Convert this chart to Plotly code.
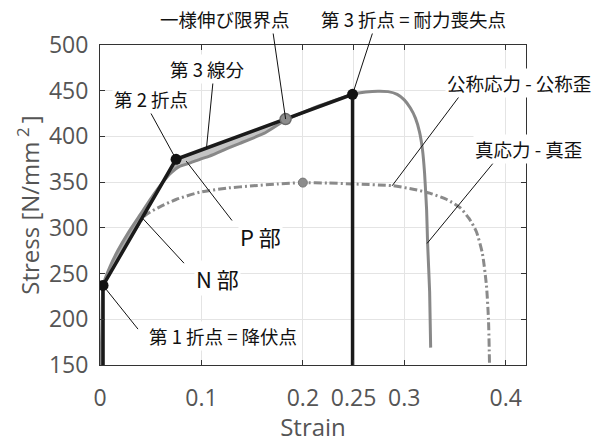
import plotly.graph_objects as go

# ---------------- data ----------------
# Nominal stress-strain curve (solid gray)
nominal_strain = [0.001, 0.002, 0.003, 0.010, 0.018, 0.028, 0.040, 0.052, 0.062, 0.070,
                  0.078, 0.089, 0.0985, 0.108, 0.128, 0.138, 0.163, 0.183, 0.217, 0.249,
                  0.262, 0.274, 0.284, 0.293, 0.300, 0.306, 0.311, 0.315, 0.318, 0.320,
                  0.322, 0.323, 0.325, 0.326]
nominal_stress = [150, 200, 237, 258, 276, 295, 315, 335, 350, 360,
                  367, 371, 375, 378.5, 388, 392.5, 404, 418, 434, 446,
                  448.5, 449.5, 449, 446, 440, 431, 420, 405, 385, 360,
                  320, 283, 230, 169]

# True stress-strain curve (dash-dot gray)
true_strain = [0.003, 0.020, 0.044, 0.059, 0.075, 0.0985, 0.125, 0.151, 0.175, 0.199,
               0.225, 0.250, 0.289, 0.310, 0.325, 0.342, 0.355, 0.364, 0.371, 0.377,
               0.381, 0.383, 0.384]
true_stress = [237, 272, 313, 323, 331, 339, 343.5, 346, 348, 349.5,
               349, 348, 346, 342, 338, 331, 322, 310, 296, 272,
               237, 200, 152]

# Tri-linear model (black)
model_strain = [0.003, 0.003, 0.075, 0.183, 0.249, 0.249]
model_stress = [150, 237, 375, 419, 446, 150]

# Break points (black dots)
break_strain = [0.003, 0.075, 0.249]
break_stress = [237, 375, 446]

# Uniform elongation point (gray dot on nominal curve) and max of true curve
uniform_strain = [0.183]
uniform_stress = [419]
true_max_strain = [0.200]
true_max_stress = [349.5]

x_tickvals = [0, 0.1, 0.2, 0.25, 0.3, 0.4]
x_ticktext = ["0", "0.1", "0.2", "0.25", "0.3", "0.4"]
y_tickvals = [150, 200, 250, 300, 350, 400, 450, 500]

# ---------------- layout geometry ----------------
W, H = 604, 443
ML, MR, MT, MB = 100, 78, 45, 68
XR = [0, 0.42]
YR = [150, 500]
PW, PH = W - ML - MR, H - MT - MB


def data_to_paper(x, y):
    return (x - XR[0]) / (XR[1] - XR[0]), (y - YR[0]) / (YR[1] - YR[0])


def pix_to_paper(pxx, pyy):
    return (pxx - ML) / PW, (MT + PH - pyy) / PH


fig = go.Figure()

# true curve first (under everything)
fig.add_trace(go.Scatter(x=true_strain, y=true_stress, mode="lines",
                         line=dict(color="#8a8a8a", width=3, dash="8px,3px,2px,3px", shape="spline", smoothing=0.6),
                         hoverinfo="skip", showlegend=False))


# fill regions between the nominal curve and the model line
def segment(xs, ys, lo, hi):
    return [(a, b) for a, b in zip(xs, ys) if lo <= a <= hi and b >= 237]


n_curve = segment(nominal_strain, nominal_stress, 0.003, 0.078)
n_poly_x = [p[0] for p in n_curve] + [model_strain[2], model_strain[1]]
n_poly_y = [p[1] for p in n_curve] + [model_stress[2], model_stress[1]]
fig.add_trace(go.Scatter(x=n_poly_x, y=n_poly_y, mode="lines", fill="toself",
                         fillcolor="#a9a9a9", line=dict(width=0), hoverinfo="skip", showlegend=False))

p_curve = segment(nominal_strain, nominal_stress, 0.076, 0.183)
p_poly_x = [model_strain[2]] + [p[0] for p in p_curve] + [model_strain[3]]
p_poly_y = [model_stress[2]] + [p[1] for p in p_curve] + [model_stress[3]]
fig.add_trace(go.Scatter(x=p_poly_x, y=p_poly_y, mode="lines", fill="toself",
                         fillcolor="#c4c4c4", line=dict(width=0), hoverinfo="skip", showlegend=False))

# nominal curve
fig.add_trace(go.Scatter(x=nominal_strain, y=nominal_stress, mode="lines",
                         line=dict(color="#888888", width=3, shape="spline", smoothing=0.4),
                         hoverinfo="skip", showlegend=False))

# model line
fig.add_trace(go.Scatter(x=model_strain, y=model_stress, mode="lines",
                         line=dict(color="#1a1a1a", width=3.5),
                         hoverinfo="skip", showlegend=False))

# markers
fig.add_trace(go.Scatter(x=true_max_strain, y=true_max_stress, mode="markers",
                         marker=dict(color="#8c8c8c", size=9, line=dict(color="#777777", width=1)),
                         hoverinfo="skip", showlegend=False))
fig.add_trace(go.Scatter(x=uniform_strain, y=uniform_stress, mode="markers",
                         marker=dict(color="#8c8c8c", size=11, line=dict(color="#6a6a6a", width=1.5)),
                         hoverinfo="skip", showlegend=False))
fig.add_trace(go.Scatter(x=break_strain, y=break_stress, mode="markers",
                         marker=dict(color="#111111", size=11),
                         hoverinfo="skip", showlegend=False))

JP = "Noto Sans CJK JP"

# leader lines: (tip data x, tip data y, tail pixel x, tail pixel y)
leaders = [
    (uniform_strain[0], uniform_stress[0], 273, 32),
    (break_strain[2], break_stress[2], 374, 28),
    (0.105, 387.5, 213, 83),
    (break_strain[1], break_stress[1], 148, 110),
    (0.085, 373, 232, 226),
    (0.0424, 310, 184, 270),
    (break_strain[0], break_stress[0], 138, 338),
    (0.288, 346, 460, 97),
    (0.3225, 283, 493, 167),
]
shapes = []
for tx, ty, tpx, tpy in leaders:
    x0, y0 = data_to_paper(tx, ty)
    x1, y1 = pix_to_paper(tpx, tpy)
    shapes.append(dict(type="line", xref="paper", yref="paper", x0=x0, y0=y0, x1=x1, y1=y1,
                       line=dict(color="#111111", width=1), layer="above"))

labels = [
    ("一様伸び限界点", 225, 18, 18.5),
    ("第 3 折点 = 耐力喪失点", 413, 18, 18.5),
    ("第 3 線分", 207, 70, 18.5),
    ("第 2 折点", 151, 101, 18.5),
    ("P 部", 260, 242, 22),
    ("N 部", 217, 285, 22),
    ("第 1 折点 = 降伏点", 223, 345, 18.5),
    ("公称応力 - 公称歪", 519, 84, 18.5),
    ("真応力 - 真歪", 528, 152, 18.5),
]
annotations = []
for txt, lx, ly, fs in labels:
    xp, yp = pix_to_paper(lx, ly)
    annotations.append(dict(x=xp, y=yp, xref="paper", yref="paper", text=txt, showarrow=False,
                            xanchor="center", yanchor="middle", bgcolor="white", borderpad=1,
                            font=dict(family=JP, size=fs, color="#111111")))

axis_common = dict(showline=True, linecolor="#333333", linewidth=1, mirror="ticks",
                   ticks="inside", ticklen=5, tickcolor="#333333", showgrid=True,
                   gridcolor="#e4e4e4", gridwidth=1, zeroline=False,
                   tickfont=dict(family="Open Sans", size=23, color="#555555"))

fig.update_layout(
    width=W, height=H,
    margin=dict(l=ML, r=MR, t=MT, b=MB),
    paper_bgcolor="white", plot_bgcolor="white",
    xaxis=dict(range=XR, tickvals=x_tickvals, ticktext=x_ticktext,
               title=dict(text="Strain", font=dict(family="Open Sans", size=24, color="#555555"), standoff=2),
               ticklabelstandoff=12, **axis_common),
    yaxis=dict(range=YR, tickvals=y_tickvals,
               title=dict(text="Stress [N/mm<sup> 2 </sup>]", font=dict(family="Open Sans", size=24, color="#555555"), standoff=2),
               ticklabelstandoff=6, **axis_common),
    annotations=annotations,
    shapes=shapes,
)

fig.write_html("out.html")
